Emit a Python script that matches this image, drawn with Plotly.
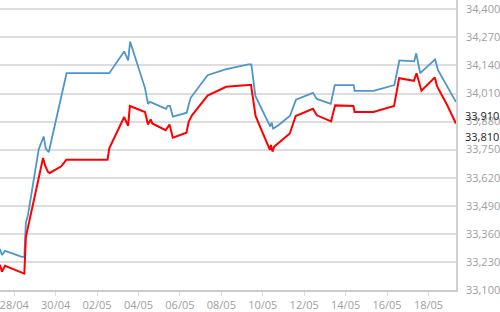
import plotly.graph_objects as go

# ---- data ----
blue_dates = [
    "2015-04-27 07:30", "2015-04-27 09:50", "2015-04-27 13:20", "2015-04-28 09:00", "2015-04-28 11:45",
    "2015-04-28 13:30", "2015-04-28 15:50", "2015-04-29 04:25", "2015-04-29 10:10", "2015-04-29 12:30",
    "2015-04-29 16:00", "2015-04-30 12:40", "2015-05-02 14:10", "2015-05-03 07:25", "2015-05-03 12:00",
    "2015-05-03 14:20", "2015-05-04 07:35", "2015-05-04 11:00", "2015-05-04 13:20", "2015-05-05 07:50",
    "2015-05-05 10:00", "2015-05-05 12:25", "2015-05-05 15:50", "2015-05-06 07:55", "2015-05-06 10:10",
    "2015-05-06 12:30", "2015-05-07 08:05", "2015-05-08 04:50", "2015-05-09 07:20", "2015-05-09 10:45",
    "2015-05-09 15:25", "2015-05-10 08:40", "2015-05-10 10:20", "2015-05-10 12:00", "2015-05-10 17:50",
    "2015-05-11 07:35", "2015-05-11 14:30", "2015-05-12 10:05", "2015-05-12 14:40", "2015-05-13 06:50",
    "2015-05-13 11:25", "2015-05-14 09:20", "2015-05-14 10:25", "2015-05-15 08:20", "2015-05-16 08:30",
    "2015-05-16 14:15", "2015-05-17 07:30", "2015-05-17 09:50", "2015-05-17 14:25", "2015-05-18 07:40",
    "2015-05-18 11:05", "2015-05-18 21:30", "2015-05-19 07:50",
]
blue_values = [
    33290, 33262, 33281, 33253, 33253,
    33413, 33445, 33752, 33811, 33756,
    33738, 34104, 34104, 34205, 34163,
    34250, 34035, 33962, 33971, 33939,
    33953, 33953, 33903, 33921, 33958,
    33990, 34095, 34122, 34145, 34145,
    33999, 33857, 33875, 33848, 33862,
    33907, 33981, 34013, 33985, 33962,
    34049, 34049, 34022, 34022, 34049,
    34163, 34159, 34196, 34104, 34168,
    34118, 34045, 33971,
]

red_dates = [
    "2015-04-27 07:30", "2015-04-27 09:50", "2015-04-27 13:20", "2015-04-28 09:00", "2015-04-28 11:45",
    "2015-04-28 13:30", "2015-04-29 09:25", "2015-04-29 12:05", "2015-04-29 15:05", "2015-04-29 17:05",
    "2015-04-30 06:35", "2015-04-30 12:20", "2015-05-02 12:10", "2015-05-02 14:10", "2015-05-03 07:25",
    "2015-05-03 12:00", "2015-05-03 14:00", "2015-05-04 07:35", "2015-05-04 11:00", "2015-05-04 14:10",
    "2015-05-04 16:00", "2015-05-05 07:25", "2015-05-05 12:00", "2015-05-05 15:50", "2015-05-06 07:35",
    "2015-05-06 10:10", "2015-05-06 14:00", "2015-05-07 08:05", "2015-05-08 05:35", "2015-05-09 07:20",
    "2015-05-09 10:25", "2015-05-09 15:40", "2015-05-10 08:15", "2015-05-10 09:25", "2015-05-10 11:15",
    "2015-05-10 13:15", "2015-05-11 07:20", "2015-05-11 14:10", "2015-05-12 10:05", "2015-05-12 14:40",
    "2015-05-13 07:10", "2015-05-13 11:50", "2015-05-14 09:00", "2015-05-14 10:25", "2015-05-15 08:20",
    "2015-05-16 08:10", "2015-05-16 14:00", "2015-05-17 07:10", "2015-05-17 10:10", "2015-05-17 15:55",
    "2015-05-18 07:20", "2015-05-18 10:00", "2015-05-18 21:30", "2015-05-19 07:50",
]
red_values = [
    33217, 33185, 33212, 33180, 33176,
    33345, 33711, 33673, 33647, 33642,
    33673, 33703, 33703, 33756, 33901,
    33860, 33952, 33924, 33866, 33890,
    33871, 33840, 33866, 33805, 33828,
    33879, 33909, 34000, 34041, 34049,
    34049, 33906, 33749, 33772, 33741,
    33764, 33825, 33906, 33939, 33909,
    33881, 33955, 33952, 33924, 33924,
    33952, 34081, 34069, 34104, 34023,
    34084, 34043, 33958, 33871,
]

y_ticks = [33100, 33230, 33360, 33490, 33620, 33750, 33880, 34010, 34140, 34270, 34400]
x_tick_dates = ["2015-04-28", "2015-04-30", "2015-05-02", "2015-05-04", "2015-05-06",
                "2015-05-08", "2015-05-10", "2015-05-12", "2015-05-14", "2015-05-16", "2015-05-18"]
x_tick_labels = ["28/04", "30/04", "02/05", "04/05", "06/05", "08/05",
                 "10/05", "12/05", "14/05", "16/05", "18/05"]
last_labels = [("33,910", 33910), ("33,810", 33810)]

FONT = "Open Sans, DejaVu Sans, sans-serif"

fig = go.Figure()
fig.add_trace(go.Scatter(x=blue_dates, y=blue_values, mode="lines",
                         line=dict(color="#4f96c8", width=1.8), hoverinfo="skip"))
fig.add_trace(go.Scatter(x=red_dates, y=red_values, mode="lines",
                         line=dict(color="#ff0000", width=2), hoverinfo="skip"))

for txt, val in last_labels:
    fig.add_annotation(x=1, xref="paper", y=val, yref="y", text=txt, showarrow=False,
                       xanchor="left", yanchor="middle", xshift=7,
                       font=dict(family=FONT, size=11, color="#222222"))

fig.update_layout(
    width=500, height=312,
    margin=dict(l=0, r=41, t=0, b=19),
    paper_bgcolor="white", plot_bgcolor="white",
    showlegend=False,
    font=dict(family=FONT, size=11, color="#a0a0a0"),
    xaxis=dict(
        type="date",
        range=["2015-04-27 07:32", "2015-05-19 07:54"],
        tickvals=x_tick_dates, ticktext=x_tick_labels,
        ticklabeloverflow="allow",
        showgrid=False, zeroline=False,
        showline=True, linecolor="#cccccc", linewidth=1.5,
        ticks="outside", ticklen=4, tickcolor="#dddddd",
        tickfont=dict(family=FONT, size=11, color="#a0a0a0"),
    ),
    yaxis=dict(
        side="right",
        range=[33100, 34443],
        tickvals=y_ticks,
        tickformat=",d",
        showgrid=True, gridcolor="#dddddd", gridwidth=1.5,
        zeroline=False,
        showline=True, linecolor="#d0d0d0", linewidth=1.5,
        ticks="outside", ticklen=6, tickcolor="rgba(0,0,0,0)",
        tickfont=dict(family=FONT, size=11, color="#a0a0a0"),
    ),
)

fig.write_html("out.html")
